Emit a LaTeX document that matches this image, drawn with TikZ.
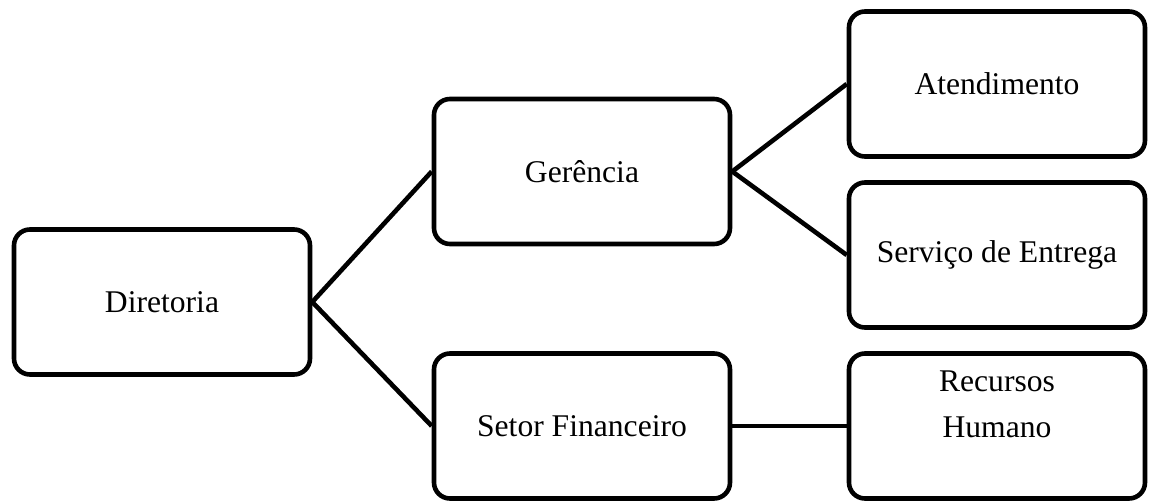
\documentclass[tikz,border=0pt]{standalone}
\usepackage{fontspec}
\setmainfont{Liberation Serif}
\begin{document}
\begin{tikzpicture}[x=0.5pt,y=-0.5pt,
  box/.style={draw=black,line width=2.3pt,rounded corners=8pt,fill=white,
    minimum width=148pt,minimum height=72.5pt,inner sep=0pt,
    font=\fontsize{15.8}{23}\selectfont,align=center},
  lbl/.style={font=\fontsize{15.8}{23}\selectfont,align=center,inner sep=0pt},
  conn/.style={draw=black,line width=2.3pt}]
\useasboundingbox (0,0) rectangle (1152,502);
\node[box] (dir) at (162,302) {Diretoria};
\node[box] (ger) at (582,171.5) {Gerência};
\node[box] (set) at (582,426) {Setor Financeiro};
\node[box] (ate) at (997,84) {Atendimento};
\node[box] (ser) at (997,255) {Serviço de Entrega};
\node[box] (rh) at (997,426) {};
\node[lbl] (rhtext) at (997,404) {Recursos\\Humano};
\draw[conn] (dir.east) -- (ger.west);
\draw[conn] (dir.east) -- (set.west);
\draw[conn] (ger.east) -- (ate.west);
\draw[conn] (ger.east) -- (ser.west);
\draw[conn] (set.east) -- (rh.west);
\end{tikzpicture}
\end{document}
